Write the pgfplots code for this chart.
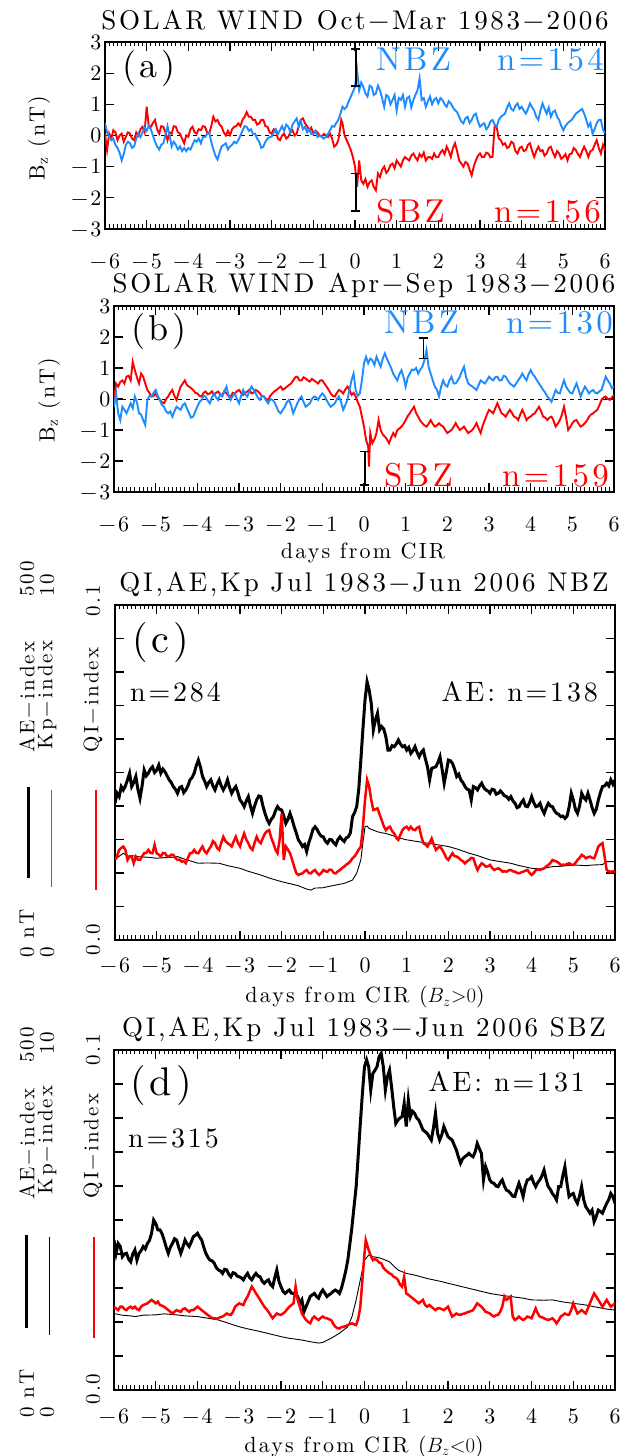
\documentclass[border=0pt]{standalone}
\usepackage{fontspec}
\setmainfont{lmroman10-regular}[Extension=.otf, LetterSpace=10]
\usepackage{pgfplots}
\pgfplotsset{compat=1.18}
\definecolor{nbz}{RGB}{30,140,255}
\definecolor{sbz}{RGB}{255,0,0}
\newcommand{\fs}[1]{\fontsize{#1}{#1}\selectfont}
\pgfplotsset{
  panel/.style={scale only axis, width=500pt, xmin=-6, xmax=6,
    xtick={-6,-5,-4,-3,-2,-1,0,1,2,3,4,5,6},
    xticklabels={−6,−5,−4,−3,−2,−1,0,1,2,3,4,5,6},
    minor x tick num=9, tick align=inside,
    major tick length=9pt, minor tick length=4.5pt,
    axis line style={line width=1.8pt},
    major tick style={line width=1.3pt, black},
    minor tick style={line width=1pt, black},
    tick label style={font=\fs{22}},
    clip=true},
  swpanel/.style={panel, ymin=-3, ymax=3, ytick={-3,-2,-1,0,1,2,3},
    yticklabels={−3,−2,−1,0,1,2,3},
    xticklabel style={anchor=base, yshift=-40pt}},
  qipanel/.style={panel, ymin=0, ymax=10, ytick={0,1,2,3,4,5,6,7,8,9,10},
    yticklabels={,,,,,,,,,,},
    xticklabel style={anchor=base, yshift=-33pt}},
  ebar/.style={black, line width=1.5pt, mark=none, error bars/.cd, y dir=both, y explicit,
    error bar style={line width=1.5pt, black},
    error mark options={rotate=90, mark size=4.5pt, line width=1.5pt, black}},
}
\begin{document}
\begin{tikzpicture}[x=1pt,y=1pt]
\useasboundingbox (0,0) rectangle (631,1456);
% ---------------- panel (a)
\begin{axis}[swpanel, at={(105pt,1227pt)}, anchor=south west, height=187pt]
\addplot[black, line width=0.8pt, dash pattern=on 4pt off 4pt] coordinates {(-6,0) (6,0)};
\addplot[sbz, line width=1.9pt] coordinates {
(-6,0.06) (-5.95,-0.47) (-5.9,0.06) (-5.85,-0.1) (-5.8,0.17) (-5.75,0.1) (-5.7,-0.15) (-5.65,0.0) (-5.6,0.06) (-5.55,-0.2) (-5.5,-0.04) (-5.45,0.1) (-5.4,0.06) (-5.35,-0.1) (-5.3,-0.15) (-5.25,0.1) (-5.2,0.0) (-5.15,0.2) (-5.1,0.28) (-5.05,0.1) (-5.0,0.92) (-4.95,0.3) (-4.9,0.28) (-4.85,0.4) (-4.8,0.5) (-4.75,0.2) (-4.7,0.06) (-4.65,0.3) (-4.6,0.28) (-4.55,0.1) (-4.5,-0.15) (-4.45,0.1) (-4.4,0.06) (-4.35,0.3) (-4.3,0.28) (-4.25,0.1) (-4.2,0.06) (-4.15,-0.1) (-4.1,-0.25) (-4.05,0.0) (-4.0,-0.04) (-3.95,0.2) (-3.9,0.28) (-3.85,0.1) (-3.8,0.06) (-3.75,0.2) (-3.7,0.17) (-3.65,0.3) (-3.6,0.28) (-3.55,0.1) (-3.5,0.06) (-3.45,0.3) (-3.4,0.6) (-3.35,0.45) (-3.3,0.5) (-3.25,0.35) (-3.2,0.28) (-3.15,0.1) (-3.1,0.0) (-3.05,0.15) (-3.0,0.01) (-2.95,0.2) (-2.9,0.28) (-2.85,0.3) (-2.8,0.39) (-2.75,0.3) (-2.7,0.5) (-2.65,0.6) (-2.6,0.75) (-2.55,0.6) (-2.5,0.6) (-2.45,0.5) (-2.4,0.5) (-2.35,0.35) (-2.3,0.39) (-2.25,0.5) (-2.2,0.5) (-2.15,0.3) (-2.1,0.28) (-2.05,0.1) (-2.0,0.06) (-1.95,0.2) (-1.9,0.17) (-1.85,-0.1) (-1.8,-0.15) (-1.75,0.0) (-1.7,0.06) (-1.65,-0.1) (-1.6,-0.04) (-1.55,0.1) (-1.5,0.17) (-1.45,0.0) (-1.4,0.06) (-1.35,0.3) (-1.3,0.5) (-1.25,0.55) (-1.2,0.39) (-1.15,0.3) (-1.1,0.17) (-1.05,0.25) (-1.0,0.06) (-0.95,0.15) (-0.9,0.1) (-0.85,0.0) (-0.8,-0.04) (-0.75,0.05) (-0.7,0.01) (-0.65,-0.05) (-0.6,0.06) (-0.55,-0.1) (-0.5,-0.36) (-0.45,-0.3) (-0.4,-0.15) (-0.35,0.3) (-0.33,0.5) (-0.3,0.39) (-0.25,0.0) (-0.2,-0.15) (-0.15,-0.3) (-0.1,-0.47) (-0.05,-0.7) (0,-1.0) (0.05,-1.65) (0.1,-0.8) (0.15,-1.44) (0.2,-1.55) (0.25,-1.4) (0.3,-1.65) (0.35,-1.5) (0.4,-1.44) (0.45,-1.65) (0.5,-1.76) (0.55,-1.22) (0.6,-1.33) (0.65,-1.1) (0.7,-1.0) (0.75,-1.2) (0.8,-1.12) (0.85,-0.95) (0.9,-0.9) (0.95,-1.05) (1.0,-0.8) (1.05,-0.9) (1.1,-1.0) (1.15,-0.8) (1.2,-0.69) (1.25,-0.75) (1.3,-0.8) (1.35,-0.65) (1.4,-0.58) (1.45,-0.7) (1.5,-0.8) (1.55,-0.6) (1.6,-0.69) (1.65,-0.55) (1.7,-0.8) (1.75,-0.7) (1.8,-0.69) (1.85,-0.75) (1.9,-0.58) (1.95,-0.7) (2.0,-0.69) (2.05,-0.55) (2.1,-0.47) (2.15,-0.6) (2.2,-0.36) (2.25,-0.5) (2.3,-0.69) (2.35,-0.4) (2.4,-0.25) (2.45,-0.5) (2.5,-0.8) (2.55,-0.9) (2.6,-1.0) (2.65,-0.85) (2.7,-0.9) (2.75,-1.1) (2.8,-1.28) (2.85,-1.0) (2.9,-0.8) (2.95,-0.65) (3.0,-0.58) (3.05,-0.7) (3.1,-0.69) (3.15,-0.55) (3.2,-0.58) (3.25,-0.7) (3.3,-0.69) (3.35,0.28) (3.4,0.28) (3.45,-0.1) (3.5,-0.15) (3.55,-0.3) (3.6,-0.25) (3.65,-0.4) (3.7,-0.36) (3.75,-0.2) (3.8,-0.25) (3.85,-0.5) (3.9,-0.58) (3.95,-0.4) (4.0,-0.36) (4.05,-0.5) (4.1,-0.47) (4.15,-0.3) (4.2,-0.25) (4.25,-0.5) (4.3,-0.69) (4.35,-0.5) (4.4,-0.36) (4.45,-0.5) (4.5,-0.47) (4.55,-0.65) (4.6,-0.58) (4.65,-0.4) (4.7,-0.36) (4.75,-0.55) (4.8,-0.69) (4.85,-0.5) (4.9,-0.58) (4.95,-0.75) (5.0,-0.69) (5.05,-0.6) (5.1,-0.8) (5.15,-0.6) (5.2,-0.58) (5.25,-0.4) (5.3,-0.47) (5.35,-0.6) (5.4,-0.69) (5.45,-0.5) (5.5,-0.36) (5.55,-0.5) (5.6,-0.69) (5.65,-0.5) (5.7,-0.47) (5.75,-0.3) (5.8,-0.15) (5.85,-0.4) (5.9,-0.58) (5.95,-0.3) (6.0,-0.47)};
\addplot[nbz, line width=1.9pt] coordinates {
(-6,0.4) (-5.95,0.1) (-5.9,-0.05) (-5.85,-0.15) (-5.8,-0.1) (-5.75,-0.3) (-5.7,-0.4) (-5.65,-0.55) (-5.6,-0.8) (-5.55,-0.6) (-5.5,-0.3) (-5.45,-0.2) (-5.4,-0.25) (-5.35,-0.4) (-5.3,-0.35) (-5.25,-0.1) (-5.2,0.05) (-5.15,-0.05) (-5.1,0.1) (-5.05,0.25) (-5.0,0.15) (-4.95,0.3) (-4.9,0.2) (-4.85,0.0) (-4.8,-0.2) (-4.75,-0.35) (-4.7,-0.45) (-4.65,-0.3) (-4.6,-0.25) (-4.55,0.0) (-4.5,0.3) (-4.45,0.0) (-4.4,-0.35) (-4.35,-0.2) (-4.3,-0.3) (-4.25,-0.45) (-4.2,-0.35) (-4.15,-0.5) (-4.1,-0.4) (-4.05,-0.5) (-4.0,-0.4) (-3.95,-0.45) (-3.9,-0.3) (-3.85,-0.15) (-3.8,-0.2) (-3.75,-0.1) (-3.7,-0.25) (-3.65,-0.05) (-3.6,-0.05) (-3.55,0.05) (-3.5,0.1) (-3.45,-0.2) (-3.4,-0.45) (-3.35,-0.65) (-3.3,-0.77) (-3.25,-0.55) (-3.2,-0.35) (-3.15,-0.3) (-3.1,-0.25) (-3.05,-0.45) (-3.0,-0.35) (-2.95,-0.3) (-2.9,-0.2) (-2.85,-0.25) (-2.8,-0.15) (-2.75,0.0) (-2.7,0.15) (-2.65,0.3) (-2.6,0.28) (-2.55,0.15) (-2.5,0.2) (-2.45,0.05) (-2.4,0.06) (-2.35,-0.1) (-2.3,-0.2) (-2.25,-0.4) (-2.2,-0.36) (-2.15,-0.2) (-2.1,-0.1) (-2.05,-0.05) (-2.0,-0.04) (-1.95,0.1) (-1.9,0.2) (-1.85,0.05) (-1.8,0.17) (-1.75,0.3) (-1.7,0.15) (-1.65,0.35) (-1.6,0.28) (-1.55,0.1) (-1.5,0.35) (-1.45,0.45) (-1.4,0.55) (-1.35,0.3) (-1.3,0.45) (-1.25,0.2) (-1.2,0.28) (-1.15,0.1) (-1.1,0.2) (-1.05,0.05) (-1.0,0.06) (-0.95,0.15) (-0.9,-0.05) (-0.85,0.0) (-0.8,-0.04) (-0.75,-0.1) (-0.7,-0.05) (-0.65,0.05) (-0.6,0.17) (-0.55,0.3) (-0.5,0.28) (-0.45,0.4) (-0.4,0.5) (-0.35,0.7) (-0.3,0.92) (-0.25,0.85) (-0.2,0.92) (-0.15,1.1) (-0.1,1.25) (-0.05,1.4) (0,1.56) (0.05,2.1) (0.1,1.45) (0.15,1.7) (0.2,1.56) (0.25,1.35) (0.3,1.25) (0.35,1.6) (0.4,1.56) (0.45,1.3) (0.5,1.35) (0.55,1.6) (0.6,1.45) (0.65,1.2) (0.7,0.92) (0.75,1.3) (0.8,1.25) (0.85,1.0) (0.9,1.14) (0.95,1.3) (1.0,0.8) (1.05,1.2) (1.1,1.14) (1.15,1.3) (1.2,0.92) (1.25,1.2) (1.3,1.25) (1.35,0.9) (1.4,1.14) (1.45,1.3) (1.5,1.45) (1.55,1.83) (1.6,1.14) (1.65,1.2) (1.7,0.92) (1.75,1.1) (1.8,1.25) (1.85,1.0) (1.9,1.15) (1.95,1.2) (2.0,1.03) (2.05,1.2) (2.1,1.14) (2.15,1.0) (2.2,0.92) (2.25,1.1) (2.3,1.03) (2.35,0.9) (2.4,0.81) (2.45,0.75) (2.5,0.6) (2.55,0.45) (2.6,0.39) (2.65,0.55) (2.7,0.6) (2.75,0.4) (2.8,0.5) (2.85,0.65) (2.9,0.7) (2.95,0.45) (3.0,0.28) (3.05,0.35) (3.1,0.39) (3.15,0.2) (3.2,0.28) (3.25,0.45) (3.3,0.5) (3.35,0.35) (3.4,0.28) (3.45,0.5) (3.5,0.6) (3.55,0.65) (3.6,0.7) (3.65,0.9) (3.7,1.03) (3.75,0.85) (3.8,0.8) (3.85,0.95) (3.9,1.03) (3.95,0.85) (4.0,0.92) (4.05,0.8) (4.1,0.7) (4.15,0.85) (4.2,1.03) (4.25,0.9) (4.3,0.8) (4.35,0.6) (4.4,0.5) (4.45,0.8) (4.5,1.03) (4.55,0.85) (4.6,0.7) (4.65,0.9) (4.7,0.6) (4.75,0.75) (4.8,0.8) (4.85,0.6) (4.9,0.5) (4.95,0.3) (5.0,0.17) (5.05,0.3) (5.1,0.39) (5.15,0.45) (5.2,0.5) (5.25,0.6) (5.3,0.7) (5.35,0.75) (5.4,0.8) (5.45,0.85) (5.5,0.7) (5.55,0.5) (5.6,0.28) (5.65,0.4) (5.7,0.06) (5.75,0.2) (5.8,0.39) (5.85,0.5) (5.9,0.5) (5.95,0.2) (6.0,0.06)};
\addplot[ebar] coordinates {(0.02,2.18) +- (0,0.59)};
\addplot[ebar] coordinates {(0.02,-1.825) +- (0,0.6)};
\end{axis}
% ---------------- panel (b)
\begin{axis}[swpanel, at={(114pt,964pt)}, anchor=south west, height=186pt]
\addplot[black, line width=0.8pt, dash pattern=on 4pt off 4pt] coordinates {(-6,0) (6,0)};
\addplot[sbz, line width=1.9pt] coordinates {
(-6,-0.03) (-5.95,0.5) (-5.9,0.4) (-5.85,0.55) (-5.8,0.6) (-5.75,0.5) (-5.7,0.72) (-5.65,0.75) (-5.6,0.6) (-5.55,1.2) (-5.5,0.93) (-5.45,0.7) (-5.4,0.5) (-5.35,0.82) (-5.3,0.72) (-5.25,0.5) (-5.2,0.29) (-5.15,0.2) (-5.1,0.08) (-5.05,0.1) (-5.0,0.18) (-4.95,0.05) (-4.9,-0.03) (-4.85,-0.1) (-4.8,-0.14) (-4.75,0.0) (-4.7,0.08) (-4.65,0.2) (-4.6,0.29) (-4.55,0.1) (-4.5,-0.03) (-4.45,0.2) (-4.4,0.4) (-4.35,0.5) (-4.3,0.6) (-4.25,0.45) (-4.2,0.4) (-4.15,0.35) (-4.1,0.29) (-4.05,0.2) (-4.0,0.18) (-3.95,0.1) (-3.9,0.08) (-3.85,0.2) (-3.8,0.24) (-3.75,0.15) (-3.7,0.18) (-3.65,0.25) (-3.6,0.13) (-3.55,0.2) (-3.5,0.24) (-3.45,0.15) (-3.4,0.13) (-3.35,0.25) (-3.3,0.18) (-3.25,0.1) (-3.2,0.08) (-3.15,0.2) (-3.1,0.18) (-3.05,0.25) (-3.0,0.29) (-2.95,0.2) (-2.9,0.13) (-2.85,0.2) (-2.8,0.24) (-2.75,0.3) (-2.7,0.18) (-2.65,0.2) (-2.6,0.29) (-2.55,0.25) (-2.5,0.18) (-2.45,0.1) (-2.4,0.08) (-2.35,0.0) (-2.3,-0.03) (-2.25,0.1) (-2.2,0.18) (-2.15,0.25) (-2.1,0.29) (-2.05,0.35) (-2.0,0.4) (-1.95,0.3) (-1.9,0.34) (-1.85,0.4) (-1.8,0.45) (-1.75,0.5) (-1.7,0.6) (-1.65,0.7) (-1.6,0.72) (-1.55,0.6) (-1.5,0.6) (-1.45,0.7) (-1.4,0.66) (-1.35,0.6) (-1.3,0.56) (-1.25,0.65) (-1.2,0.6) (-1.15,0.55) (-1.1,0.5) (-1.05,0.6) (-1.0,0.6) (-0.95,0.5) (-0.9,0.4) (-0.85,0.3) (-0.8,0.18) (-0.75,0.1) (-0.7,0.08) (-0.65,0.2) (-0.6,0.29) (-0.55,0.25) (-0.5,0.18) (-0.45,0.3) (-0.4,0.4) (-0.35,0.3) (-0.3,0.13) (-0.25,0.2) (-0.2,0.08) (-0.15,-0.1) (-0.1,-0.25) (-0.05,-0.57) (0,-0.89) (0.05,-1.32) (0.1,-1.54) (0.12,-2.18) (0.15,-1.1) (0.2,-1.43) (0.25,-1.3) (0.3,-1.1) (0.35,-0.68) (0.4,-1.0) (0.45,-1.15) (0.5,-1.21) (0.55,-1.3) (0.6,-1.43) (0.65,-1.25) (0.7,-1.1) (0.75,-1.2) (0.8,-1.0) (0.85,-0.95) (0.9,-0.89) (0.95,-0.8) (1.0,-0.68) (1.05,-0.55) (1.1,-0.46) (1.15,-0.35) (1.2,-0.25) (1.25,-0.45) (1.3,-0.57) (1.35,-0.7) (1.4,-0.78) (1.45,-0.85) (1.5,-0.89) (1.55,-0.8) (1.6,-0.68) (1.65,-0.8) (1.7,-0.89) (1.75,-0.85) (1.8,-0.78) (1.85,-0.85) (1.9,-0.89) (1.95,-1.0) (2.0,-1.1) (2.05,-1.05) (2.1,-1.0) (2.15,-0.9) (2.2,-0.78) (2.25,-0.9) (2.3,-1.0) (2.35,-0.95) (2.4,-0.89) (2.45,-1.0) (2.5,-1.1) (2.55,-1.05) (2.6,-1.0) (2.65,-0.9) (2.7,-0.78) (2.75,-0.95) (2.8,-1.1) (2.85,-0.85) (2.9,-0.68) (2.95,-0.5) (3.0,-0.35) (3.05,-0.4) (3.1,-0.46) (3.15,-0.3) (3.2,-0.14) (3.25,-0.3) (3.3,-0.46) (3.35,-0.5) (3.4,-0.57) (3.45,-0.45) (3.5,-0.35) (3.55,-0.45) (3.6,-0.57) (3.65,-0.6) (3.7,-0.68) (3.75,-0.5) (3.8,-0.35) (3.85,-0.5) (3.9,-0.68) (3.95,-0.6) (4.0,-0.57) (4.05,-0.5) (4.1,-0.46) (4.15,-0.35) (4.2,-0.25) (4.25,-0.4) (4.3,-0.57) (4.35,-0.6) (4.4,-0.68) (4.45,-0.6) (4.5,-0.57) (4.55,-0.7) (4.6,-0.89) (4.65,-0.8) (4.7,-0.68) (4.75,-0.5) (4.8,-0.25) (4.85,-0.6) (4.9,-1.0) (4.95,-0.9) (5.0,-0.78) (5.05,-0.7) (5.1,-0.68) (5.15,-0.8) (5.2,-0.89) (5.25,-0.85) (5.3,-0.78) (5.35,-0.7) (5.4,-0.57) (5.45,-0.5) (5.5,-0.46) (5.55,-0.4) (5.6,-0.35) (5.65,-0.2) (5.7,-0.03) (5.75,0.05) (5.8,0.08) (5.85,0.0) (5.9,-0.03) (5.95,0.05) (6.0,0.13)};
\addplot[nbz, line width=1.9pt] coordinates {
(-6,-0.25) (-5.95,0.18) (-5.9,-0.46) (-5.85,-0.68) (-5.8,-0.25) (-5.75,-0.35) (-5.7,-0.46) (-5.65,-0.3) (-5.6,-0.14) (-5.55,-0.3) (-5.5,0.08) (-5.45,-0.1) (-5.4,-0.46) (-5.35,-0.5) (-5.3,-0.68) (-5.25,-0.84) (-5.2,-0.03) (-5.15,0.1) (-5.1,0.08) (-5.05,0.2) (-5.0,0.29) (-4.95,0.1) (-4.9,-0.03) (-4.85,-0.2) (-4.8,-0.25) (-4.75,-0.4) (-4.7,-0.46) (-4.65,-0.4) (-4.6,-0.57) (-4.55,-0.4) (-4.5,-0.25) (-4.45,-0.3) (-4.4,-0.35) (-4.35,-0.2) (-4.3,-0.14) (-4.25,-0.3) (-4.2,-0.46) (-4.15,-0.6) (-4.1,-0.57) (-4.05,-0.4) (-4.0,-0.25) (-3.95,-0.1) (-3.9,-0.03) (-3.85,0.1) (-3.8,0.08) (-3.75,-0.05) (-3.7,-0.14) (-3.65,0.05) (-3.6,0.18) (-3.55,0.05) (-3.5,-0.03) (-3.45,0.15) (-3.4,0.08) (-3.35,0.25) (-3.3,0.4) (-3.25,0.1) (-3.2,-0.03) (-3.15,0.1) (-3.1,0.18) (-3.05,0.0) (-3.0,-0.14) (-2.95,0.1) (-2.9,0.29) (-2.85,0.15) (-2.8,0.08) (-2.75,0.25) (-2.7,0.4) (-2.65,0.3) (-2.6,0.18) (-2.55,0.05) (-2.5,-0.03) (-2.45,0.1) (-2.4,0.08) (-2.35,-0.05) (-2.3,-0.14) (-2.25,0.0) (-2.2,-0.03) (-2.15,-0.1) (-2.1,-0.25) (-2.05,-0.4) (-2.0,-0.46) (-1.95,-0.35) (-1.9,-0.25) (-1.85,-0.1) (-1.8,-0.03) (-1.75,-0.2) (-1.7,-0.46) (-1.65,-0.3) (-1.6,-0.14) (-1.55,0.0) (-1.5,0.08) (-1.45,-0.1) (-1.4,-0.25) (-1.35,-0.2) (-1.3,-0.14) (-1.25,0.0) (-1.2,0.08) (-1.15,0.05) (-1.1,-0.03) (-1.05,0.1) (-1.0,0.18) (-0.95,0.1) (-0.9,-0.03) (-0.85,-0.15) (-0.8,-0.25) (-0.75,-0.2) (-0.7,-0.14) (-0.65,0.0) (-0.6,0.08) (-0.55,-0.1) (-0.5,-0.35) (-0.45,-0.2) (-0.4,-0.03) (-0.35,0.3) (-0.3,0.6) (-0.25,0.82) (-0.2,0.29) (-0.15,0.1) (-0.1,0.18) (-0.05,0.6) (0,1.15) (0.05,1.36) (0.1,1.15) (0.15,1.3) (0.2,1.25) (0.25,1.1) (0.3,1.36) (0.35,1.2) (0.4,1.04) (0.45,1.3) (0.5,1.47) (0.55,1.3) (0.6,1.15) (0.65,1.0) (0.7,0.82) (0.75,0.7) (0.8,0.6) (0.85,0.8) (0.9,0.93) (0.95,0.7) (1.0,0.4) (1.05,0.7) (1.1,0.82) (1.15,0.95) (1.2,0.93) (1.25,1.0) (1.3,0.82) (1.35,0.95) (1.4,1.04) (1.45,1.25) (1.5,1.58) (1.55,1.04) (1.6,0.82) (1.65,0.6) (1.7,0.4) (1.75,0.3) (1.8,0.08) (1.85,0.4) (1.9,0.6) (1.95,0.45) (2.0,0.4) (2.05,0.6) (2.1,0.72) (2.15,0.5) (2.2,0.5) (2.25,0.6) (2.3,0.72) (2.35,0.9) (2.4,1.04) (2.45,0.7) (2.5,0.5) (2.55,0.45) (2.6,0.4) (2.65,0.35) (2.7,0.29) (2.75,0.45) (2.8,0.6) (2.85,0.55) (2.9,0.5) (2.95,0.6) (3.0,0.72) (3.05,0.65) (3.1,0.6) (3.15,0.7) (3.2,0.72) (3.25,0.6) (3.3,0.6) (3.35,0.75) (3.4,0.72) (3.45,0.6) (3.5,0.5) (3.55,0.45) (3.6,0.4) (3.65,0.5) (3.7,0.6) (3.75,0.7) (3.8,0.82) (3.85,0.7) (3.9,0.6) (3.95,0.8) (4.0,0.93) (4.05,0.8) (4.1,0.72) (4.15,0.6) (4.2,0.5) (4.25,0.4) (4.3,0.29) (4.35,0.2) (4.4,0.08) (4.45,0.0) (4.5,-0.09) (4.55,0.1) (4.6,0.29) (4.65,0.2) (4.7,0.18) (4.75,0.4) (4.8,0.6) (4.85,0.4) (4.9,0.29) (4.95,0.2) (5.0,0.18) (5.05,0.35) (5.1,0.5) (5.15,0.3) (5.2,0.08) (5.25,0.25) (5.3,0.4) (5.35,0.3) (5.4,0.18) (5.45,0.25) (5.5,0.29) (5.55,0.2) (5.6,0.18) (5.65,0.25) (5.7,0.29) (5.75,0.5) (5.8,0.72) (5.85,0.6) (5.9,0.5) (5.95,0.35) (6.0,0.4)};
\addplot[ebar] coordinates {(1.43,1.63) +- (0,0.33)};
\addplot[ebar] coordinates {(0.02,-2.235) +- (0,0.535)};
\end{axis}
% ---------------- panel (c)
\begin{axis}[qipanel, at={(115pt,516pt)}, anchor=south west, height=335pt]
\addplot[black, line width=0.9pt] coordinates {
(-6,2.39) (-5.9,2.5) (-5.8,2.59) (-5.7,2.5) (-5.6,2.52) (-5.4,2.48) (-5.2,2.47) (-5.0,2.44) (-4.8,2.46) (-4.6,2.47) (-4.5,2.49) (-4.3,2.4) (-4.0,2.29) (-3.8,2.3) (-3.5,2.29) (-3.3,2.22) (-3.0,2.14) (-2.8,2.05) (-2.5,1.94) (-2.3,1.85) (-2.0,1.74) (-1.8,1.68) (-1.6,1.62) (-1.4,1.52) (-1.3,1.49) (-1.2,1.55) (-1.0,1.56) (-0.9,1.59) (-0.7,1.64) (-0.5,1.69) (-0.4,1.74) (-0.3,1.79) (-0.2,1.99) (-0.1,2.39) (-0.05,2.9) (0,3.38) (0.05,3.4) (0.1,3.33) (0.2,3.28) (0.3,3.23) (0.4,3.2) (0.5,3.18) (0.7,3.1) (0.9,3.02) (1.0,2.99) (1.2,2.95) (1.5,2.89) (1.7,2.85) (2.0,2.79) (2.2,2.72) (2.5,2.59) (2.7,2.52) (3.0,2.39) (3.2,2.35) (3.5,2.29) (3.7,2.22) (4.0,2.14) (4.2,2.12) (4.5,2.19) (4.7,2.2) (5.0,2.24) (5.3,2.22) (5.5,2.24) (5.7,2.25) (5.8,2.34) (6.0,2.34)};
\addplot[black, line width=3pt] coordinates {
(-6,4.08) (-5.95,4.38) (-5.9,4.28) (-5.85,4.58) (-5.8,4.48) (-5.75,4.6) (-5.7,4.78) (-5.65,4.98) (-5.6,4.58) (-5.55,4.7) (-5.5,4.88) (-5.45,4.5) (-5.4,4.23) (-5.35,4.6) (-5.3,5.07) (-5.25,4.9) (-5.2,4.98) (-5.15,5.1) (-5.1,5.17) (-5.05,5.0) (-5.0,5.07) (-4.95,5.22) (-4.9,4.98) (-4.85,5.1) (-4.8,5.02) (-4.75,4.9) (-4.7,4.78) (-4.65,4.7) (-4.6,4.58) (-4.55,4.5) (-4.5,4.38) (-4.45,4.55) (-4.4,4.58) (-4.35,4.4) (-4.3,4.48) (-4.25,4.6) (-4.2,4.78) (-4.15,4.85) (-4.1,4.98) (-4.05,5.2) (-4.0,5.37) (-3.95,5.17) (-3.9,4.88) (-3.85,4.75) (-3.8,4.58) (-3.75,4.7) (-3.7,4.78) (-3.65,4.6) (-3.6,4.48) (-3.55,4.65) (-3.5,4.78) (-3.45,4.6) (-3.4,4.48) (-3.35,4.6) (-3.3,4.78) (-3.25,4.55) (-3.2,4.38) (-3.15,4.5) (-3.1,4.58) (-3.05,4.4) (-3.0,4.18) (-2.95,4.1) (-2.9,3.98) (-2.85,4.15) (-2.8,4.28) (-2.75,4.0) (-2.7,3.78) (-2.65,4.0) (-2.6,4.18) (-2.55,4.3) (-2.5,4.28) (-2.45,4.0) (-2.4,3.78) (-2.35,3.6) (-2.3,3.48) (-2.25,3.6) (-2.2,3.68) (-2.15,3.85) (-2.1,3.98) (-2.05,3.9) (-2.0,3.88) (-1.95,3.7) (-1.9,3.48) (-1.85,3.6) (-1.8,3.78) (-1.75,3.6) (-1.7,3.38) (-1.65,3.2) (-1.6,2.99) (-1.55,2.9) (-1.5,2.79) (-1.45,2.85) (-1.4,2.64) (-1.35,2.9) (-1.3,3.08) (-1.25,3.3) (-1.2,3.38) (-1.15,3.3) (-1.1,3.18) (-1.05,3.1) (-1.0,3.08) (-0.95,2.95) (-0.9,2.89) (-0.85,3.0) (-0.8,2.99) (-0.75,2.9) (-0.7,2.84) (-0.65,3.0) (-0.6,3.08) (-0.55,3.0) (-0.5,2.94) (-0.45,3.05) (-0.4,3.08) (-0.35,3.2) (-0.3,3.68) (-0.25,3.8) (-0.2,3.98) (-0.15,4.5) (-0.1,5.37) (-0.05,6.3) (0,7.16) (0.05,7.71) (0.1,7.46) (0.15,7.06) (0.2,6.27) (0.25,6.57) (0.3,6.77) (0.35,6.27) (0.4,6.37) (0.45,6.3) (0.5,6.07) (0.55,5.67) (0.6,5.67) (0.65,5.8) (0.7,5.77) (0.75,5.85) (0.8,5.97) (0.85,5.85) (0.9,5.77) (0.95,5.8) (1.0,5.67) (1.05,5.75) (1.1,5.57) (1.15,5.65) (1.2,5.77) (1.25,5.6) (1.3,5.47) (1.35,5.6) (1.4,5.67) (1.45,5.4) (1.5,5.17) (1.55,4.78) (1.6,5.12) (1.65,5.15) (1.7,5.17) (1.75,5.3) (1.8,5.47) (1.85,5.1) (1.9,4.68) (1.95,5.0) (2.0,5.37) (2.05,5.35) (2.1,5.27) (2.15,5.1) (2.2,4.88) (2.25,4.95) (2.3,4.78) (2.35,4.7) (2.4,4.58) (2.45,4.5) (2.5,4.48) (2.55,4.18) (2.6,4.58) (2.65,4.55) (2.7,4.48) (2.75,4.6) (2.8,4.68) (2.85,4.55) (2.9,4.48) (2.95,4.45) (3.0,4.38) (3.05,4.5) (3.1,4.48) (3.15,4.35) (3.2,4.38) (3.25,4.45) (3.3,4.38) (3.35,4.3) (3.4,4.28) (3.45,4.2) (3.5,4.28) (3.55,4.15) (3.6,4.08) (3.65,3.95) (3.7,3.98) (3.75,4.1) (3.8,4.18) (3.85,4.0) (3.9,3.98) (3.95,4.1) (4.0,4.28) (4.05,4.1) (4.1,3.98) (4.15,4.0) (4.2,4.08) (4.25,3.9) (4.3,3.78) (4.35,3.95) (4.4,4.08) (4.45,4.0) (4.5,3.98) (4.55,3.85) (4.6,3.78) (4.65,3.75) (4.7,3.68) (4.75,3.7) (4.8,3.63) (4.85,3.7) (4.9,3.98) (4.95,4.38) (5.0,4.18) (5.05,3.9) (5.1,3.78) (5.15,4.0) (5.2,4.38) (5.25,4.25) (5.3,4.18) (5.35,4.38) (5.4,4.18) (5.45,3.95) (5.5,3.78) (5.55,3.9) (5.6,4.18) (5.65,4.4) (5.7,4.58) (5.75,4.6) (5.8,4.68) (5.85,4.6) (5.9,4.78) (5.95,4.65) (6.0,4.78)};
\addplot[sbz, line width=2.5pt] coordinates {
(-6,2.39) (-5.95,2.5) (-5.9,2.69) (-5.85,2.75) (-5.8,2.79) (-5.75,2.69) (-5.7,2.39) (-5.65,2.5) (-5.6,2.49) (-5.55,2.29) (-5.5,2.49) (-5.45,2.4) (-5.4,2.39) (-5.35,2.5) (-5.3,2.59) (-5.25,2.6) (-5.2,2.69) (-5.15,2.6) (-5.1,2.59) (-5.05,2.84) (-5.0,2.59) (-4.95,2.55) (-4.9,2.49) (-4.85,2.6) (-4.8,2.59) (-4.75,2.5) (-4.7,2.49) (-4.65,2.55) (-4.6,2.54) (-4.55,2.45) (-4.5,2.39) (-4.45,2.4) (-4.4,2.34) (-4.35,2.35) (-4.3,2.29) (-4.25,2.45) (-4.2,2.59) (-4.15,2.6) (-4.1,2.69) (-4.05,2.6) (-4.0,2.59) (-3.95,2.7) (-3.9,2.79) (-3.85,2.65) (-3.8,2.59) (-3.75,2.7) (-3.7,2.79) (-3.65,2.95) (-3.6,2.89) (-3.55,2.75) (-3.5,2.69) (-3.45,2.9) (-3.4,3.08) (-3.35,2.95) (-3.3,2.89) (-3.25,2.85) (-3.2,2.79) (-3.15,2.95) (-3.1,3.08) (-3.05,2.9) (-3.0,2.79) (-2.95,3.0) (-2.9,3.18) (-2.85,3.0) (-2.8,2.89) (-2.75,2.75) (-2.7,2.69) (-2.65,2.9) (-2.6,3.08) (-2.55,2.95) (-2.5,2.89) (-2.45,3.05) (-2.4,3.18) (-2.35,3.25) (-2.3,3.28) (-2.25,3.05) (-2.2,2.89) (-2.15,2.7) (-2.1,2.59) (-2.05,2.99) (-2.0,3.78) (-1.95,2.39) (-1.9,2.79) (-1.85,2.7) (-1.8,2.59) (-1.75,2.4) (-1.7,2.19) (-1.65,2.0) (-1.6,1.94) (-1.55,1.97) (-1.5,1.99) (-1.45,2.05) (-1.4,2.09) (-1.35,2.0) (-1.3,1.99) (-1.25,2.05) (-1.2,2.09) (-1.15,2.0) (-1.1,1.94) (-1.05,2.0) (-1.0,2.09) (-0.95,2.05) (-0.9,2.04) (-0.85,2.1) (-0.8,2.09) (-0.75,2.0) (-0.7,1.99) (-0.65,2.05) (-0.6,2.09) (-0.55,2.15) (-0.5,2.19) (-0.45,2.25) (-0.4,2.29) (-0.35,2.35) (-0.3,2.44) (-0.25,2.5) (-0.2,2.59) (-0.15,2.7) (-0.1,2.79) (-0.05,3.38) (0,4.18) (0.05,4.78) (0.1,4.58) (0.15,4.18) (0.2,3.88) (0.25,3.9) (0.3,3.93) (0.35,3.75) (0.4,3.58) (0.45,3.4) (0.5,3.28) (0.55,3.35) (0.6,3.38) (0.65,3.25) (0.7,3.18) (0.75,3.05) (0.8,2.99) (0.85,3.15) (0.9,3.28) (0.95,3.35) (1.0,3.38) (1.05,3.3) (1.1,3.38) (1.15,3.3) (1.2,3.28) (1.25,3.35) (1.3,3.38) (1.35,3.1) (1.4,2.89) (1.45,2.85) (1.5,2.79) (1.55,2.9) (1.6,3.03) (1.65,2.85) (1.7,2.69) (1.75,2.75) (1.8,2.79) (1.85,2.7) (1.9,2.59) (1.95,2.45) (2.0,2.39) (2.05,2.5) (2.1,2.59) (2.15,2.5) (2.2,2.49) (2.25,2.45) (2.3,2.39) (2.35,2.35) (2.4,2.29) (2.45,2.35) (2.5,2.39) (2.55,2.45) (2.6,2.44) (2.65,2.25) (2.7,2.09) (2.75,2.2) (2.8,2.29) (2.85,2.25) (2.9,2.19) (2.95,2.2) (3.0,2.24) (3.05,2.15) (3.1,2.09) (3.15,2.12) (3.2,2.14) (3.25,2.1) (3.3,2.04) (3.35,2.05) (3.4,2.04) (3.45,2.08) (3.5,2.09) (3.55,2.05) (3.6,2.04) (3.65,2.0) (3.7,1.99) (3.75,2.02) (3.8,2.04) (3.85,2.07) (3.9,2.09) (3.95,2.0) (4.0,1.94) (4.05,2.0) (4.1,2.09) (4.15,2.1) (4.2,2.09) (4.25,2.12) (4.3,2.14) (4.35,2.2) (4.4,2.24) (4.45,2.3) (4.5,2.39) (4.55,2.36) (4.6,2.34) (4.65,2.3) (4.7,2.24) (4.75,2.25) (4.8,2.24) (4.85,2.27) (4.9,2.29) (4.95,2.25) (5.0,2.24) (5.05,2.3) (5.1,2.39) (5.15,2.45) (5.2,2.54) (5.25,2.5) (5.3,2.44) (5.35,2.47) (5.4,2.49) (5.45,2.45) (5.5,2.44) (5.55,2.6) (5.6,2.79) (5.65,2.85) (5.7,2.89) (5.75,2.49) (5.8,2.09) (5.85,2.05) (5.9,2.04) (5.95,2.05) (6.0,2.04)};
\end{axis}
% ---------------- panel (d)
\begin{axis}[qipanel, at={(114pt,66pt)}, anchor=south west, height=340pt, width=501pt]
\addplot[black, line width=0.9pt] coordinates {
(-6,2.25) (-5.8,2.2) (-5.6,2.18) (-5.5,2.16) (-5.3,2.2) (-5.0,2.21) (-4.8,2.24) (-4.5,2.21) (-4.3,2.18) (-4.0,2.16) (-3.8,2.12) (-3.5,2.06) (-3.3,1.98) (-3.0,1.86) (-2.8,1.8) (-2.5,1.72) (-2.3,1.66) (-2.0,1.57) (-1.8,1.52) (-1.5,1.47) (-1.3,1.42) (-1.1,1.38) (-1.0,1.4) (-0.8,1.52) (-0.6,1.67) (-0.4,1.86) (-0.3,2.16) (-0.2,2.65) (-0.1,3.24) (0,3.82) (0.1,3.97) (0.2,3.92) (0.3,3.9) (0.4,3.87) (0.5,3.82) (0.6,3.77) (0.7,3.65) (0.8,3.53) (1.0,3.43) (1.2,3.38) (1.5,3.28) (1.8,3.2) (2.0,3.14) (2.3,3.05) (2.5,2.99) (2.8,2.9) (3.0,2.84) (3.3,2.78) (3.5,2.75) (3.8,2.7) (4.0,2.65) (4.3,2.64) (4.5,2.65) (4.8,2.58) (5.0,2.55) (5.3,2.5) (5.5,2.45) (5.8,2.38) (6.0,2.35)};
\addplot[black, line width=3pt] coordinates {
(-6,4.41) (-5.95,4.02) (-5.9,4.31) (-5.85,4.22) (-5.8,3.92) (-5.75,4.0) (-5.7,4.02) (-5.65,3.85) (-5.6,3.77) (-5.55,4.0) (-5.5,4.12) (-5.45,3.82) (-5.4,4.02) (-5.35,4.1) (-5.3,4.22) (-5.25,4.15) (-5.2,4.31) (-5.15,4.4) (-5.1,4.61) (-5.05,5.0) (-5.0,4.9) (-4.95,4.71) (-4.9,4.71) (-4.85,4.6) (-4.8,4.41) (-4.75,4.2) (-4.7,4.02) (-4.65,4.2) (-4.6,4.31) (-4.55,4.45) (-4.5,4.41) (-4.45,4.2) (-4.4,4.02) (-4.35,4.2) (-4.3,4.41) (-4.25,4.3) (-4.2,4.22) (-4.15,4.35) (-4.1,4.51) (-4.05,4.55) (-4.0,4.61) (-3.95,4.5) (-3.9,4.41) (-3.85,4.2) (-3.8,4.02) (-3.75,3.9) (-3.7,3.82) (-3.65,3.8) (-3.6,3.73) (-3.55,3.6) (-3.5,3.53) (-3.45,3.5) (-3.4,3.43) (-3.35,3.55) (-3.3,3.53) (-3.25,3.4) (-3.2,3.33) (-3.15,3.45) (-3.1,3.43) (-3.05,3.35) (-3.0,3.33) (-2.95,3.3) (-2.9,3.24) (-2.85,3.35) (-2.8,3.43) (-2.75,3.3) (-2.7,3.24) (-2.65,3.35) (-2.6,3.43) (-2.55,3.35) (-2.5,3.33) (-2.45,3.2) (-2.4,3.14) (-2.35,3.2) (-2.3,3.24) (-2.25,3.1) (-2.2,3.04) (-2.15,3.3) (-2.1,3.53) (-2.05,3.2) (-2.0,3.04) (-1.95,2.9) (-1.9,2.84) (-1.85,2.9) (-1.8,2.94) (-1.75,2.85) (-1.7,2.84) (-1.65,2.8) (-1.6,2.75) (-1.55,2.55) (-1.5,2.65) (-1.45,2.3) (-1.4,2.45) (-1.35,2.6) (-1.3,2.75) (-1.25,2.8) (-1.2,2.84) (-1.15,2.75) (-1.1,2.7) (-1.05,2.85) (-1.0,2.94) (-0.95,2.85) (-0.9,2.75) (-0.85,2.8) (-0.8,2.84) (-0.75,2.9) (-0.7,2.94) (-0.65,2.9) (-0.6,2.84) (-0.55,3.0) (-0.5,3.24) (-0.45,3.5) (-0.4,3.82) (-0.35,4.3) (-0.3,4.8) (-0.25,5.4) (-0.2,5.98) (-0.15,6.9) (-0.1,7.84) (-0.05,8.73) (0,9.51) (0.05,9.71) (0.1,9.51) (0.15,8.82) (0.2,9.31) (0.25,9.4) (0.3,9.51) (0.35,9.8) (0.4,9.9) (0.45,9.51) (0.5,8.82) (0.55,9.22) (0.6,9.41) (0.65,8.9) (0.7,8.33) (0.75,7.84) (0.8,7.94) (0.85,8.0) (0.9,8.04) (0.95,8.43) (1.0,7.75) (1.05,8.53) (1.1,8.04) (1.15,8.2) (1.2,8.14) (1.25,8.0) (1.3,7.94) (1.35,7.8) (1.4,7.65) (1.45,7.6) (1.5,7.55) (1.55,7.45) (1.6,7.35) (1.65,7.7) (1.7,8.14) (1.75,7.55) (1.8,7.35) (1.85,7.5) (1.9,7.75) (1.95,7.6) (2.0,7.45) (2.05,7.4) (2.1,7.35) (2.15,7.2) (2.2,7.06) (2.25,6.85) (2.3,6.67) (2.35,6.8) (2.4,6.86) (2.45,6.9) (2.5,6.96) (2.55,6.9) (2.6,6.86) (2.65,7.0) (2.7,7.25) (2.75,7.1) (2.8,6.96) (2.85,6.18) (2.9,6.57) (2.95,6.4) (3.0,6.18) (3.05,6.1) (3.1,6.08) (3.15,6.0) (3.2,5.98) (3.25,6.1) (3.3,6.18) (3.35,6.0) (3.4,5.88) (3.45,5.85) (3.5,5.78) (3.55,5.7) (3.6,5.69) (3.65,5.9) (3.7,6.08) (3.75,5.9) (3.8,5.69) (3.85,6.0) (3.9,6.18) (3.95,6.2) (4.0,6.27) (4.05,6.1) (4.1,5.98) (4.15,6.1) (4.2,6.18) (4.25,6.3) (4.3,6.47) (4.35,6.2) (4.4,5.98) (4.45,5.9) (4.5,5.78) (4.55,5.7) (4.6,5.59) (4.65,5.98) (4.7,5.98) (4.75,6.3) (4.8,6.57) (4.85,6.08) (4.9,5.69) (4.95,5.75) (5.0,5.78) (5.05,5.6) (5.1,5.49) (5.15,5.7) (5.2,5.98) (5.25,5.6) (5.3,5.39) (5.35,5.3) (5.4,5.2) (5.45,5.29) (5.5,4.95) (5.55,5.1) (5.6,5.29) (5.65,5.25) (5.7,5.2) (5.75,5.35) (5.8,5.49) (5.85,5.6) (5.9,5.78) (5.95,5.69) (6.0,5.49)};
\addplot[sbz, line width=2.5pt] coordinates {
(-6,2.45) (-5.95,2.4) (-5.9,2.35) (-5.85,2.45) (-5.8,2.45) (-5.75,2.38) (-5.7,2.35) (-5.65,2.42) (-5.6,2.45) (-5.55,2.4) (-5.5,2.45) (-5.45,2.38) (-5.4,2.35) (-5.35,2.45) (-5.3,2.5) (-5.25,2.52) (-5.2,2.55) (-5.15,2.6) (-5.1,2.65) (-5.05,2.6) (-5.0,2.55) (-4.95,2.6) (-4.9,2.5) (-4.85,2.48) (-4.8,2.45) (-4.75,2.4) (-4.7,2.35) (-4.65,2.3) (-4.6,2.25) (-4.55,2.3) (-4.5,2.35) (-4.45,2.32) (-4.4,2.3) (-4.35,2.38) (-4.3,2.4) (-4.25,2.35) (-4.2,2.3) (-4.15,2.35) (-4.1,2.35) (-4.05,2.4) (-4.0,2.45) (-3.95,2.4) (-3.9,2.35) (-3.85,2.3) (-3.8,2.25) (-3.75,2.2) (-3.7,2.16) (-3.65,2.12) (-3.6,2.11) (-3.55,2.1) (-3.5,2.11) (-3.45,2.14) (-3.4,2.16) (-3.35,2.2) (-3.3,2.25) (-3.25,2.22) (-3.2,2.21) (-3.15,2.3) (-3.1,2.45) (-3.05,2.5) (-3.0,2.55) (-2.95,2.52) (-2.9,2.5) (-2.85,2.65) (-2.8,2.75) (-2.75,2.9) (-2.7,3.04) (-2.65,2.95) (-2.6,2.84) (-2.55,2.75) (-2.5,2.65) (-2.45,2.55) (-2.4,2.45) (-2.35,2.38) (-2.3,2.3) (-2.25,2.2) (-2.2,2.11) (-2.15,2.18) (-2.1,2.25) (-2.05,2.22) (-2.0,2.21) (-1.95,2.25) (-1.9,2.3) (-1.85,2.38) (-1.8,2.45) (-1.75,2.5) (-1.7,2.55) (-1.65,3.04) (-1.6,2.65) (-1.55,2.45) (-1.5,2.25) (-1.45,2.15) (-1.4,2.06) (-1.35,2.0) (-1.3,1.96) (-1.25,2.1) (-1.2,2.16) (-1.15,2.1) (-1.1,2.06) (-1.05,2.12) (-1.0,2.16) (-0.95,2.12) (-0.9,2.11) (-0.85,2.08) (-0.8,2.06) (-0.75,1.95) (-0.7,1.86) (-0.65,1.82) (-0.6,1.81) (-0.55,1.85) (-0.5,1.86) (-0.45,1.88) (-0.4,1.91) (-0.35,1.94) (-0.3,1.96) (-0.25,1.93) (-0.2,1.91) (-0.15,2.1) (-0.1,2.45) (-0.05,3.24) (0,4.02) (0.03,4.41) (0.1,4.12) (0.15,3.95) (0.2,3.82) (0.25,3.85) (0.3,3.82) (0.35,3.75) (0.4,3.73) (0.45,3.6) (0.5,3.53) (0.55,3.48) (0.6,3.43) (0.65,3.4) (0.7,3.33) (0.75,3.3) (0.8,3.24) (0.85,3.1) (0.9,3.04) (0.95,3.33) (1.0,2.84) (1.05,2.8) (1.1,2.75) (1.15,2.7) (1.2,2.65) (1.25,2.6) (1.3,2.55) (1.35,2.6) (1.4,2.65) (1.45,2.5) (1.5,2.45) (1.55,2.5) (1.6,2.45) (1.65,2.4) (1.7,2.35) (1.75,2.4) (1.8,2.4) (1.85,2.38) (1.9,2.35) (1.95,2.4) (2.0,2.45) (2.05,2.3) (2.1,2.16) (2.15,2.2) (2.2,2.25) (2.25,2.22) (2.3,2.21) (2.35,2.24) (2.4,2.25) (2.45,2.28) (2.5,2.3) (2.55,2.32) (2.6,2.35) (2.65,2.45) (2.7,2.55) (2.75,2.5) (2.8,2.45) (2.85,2.38) (2.9,2.3) (2.95,2.28) (3.0,2.25) (3.05,2.2) (3.1,2.16) (3.15,2.2) (3.2,2.21) (3.25,2.3) (3.3,2.45) (3.35,2.75) (3.4,2.65) (3.45,2.7) (3.5,2.75) (3.55,2.16) (3.6,2.06) (3.65,2.1) (3.7,2.16) (3.75,2.1) (3.8,2.06) (3.85,2.1) (3.9,2.16) (3.95,2.14) (4.0,2.11) (4.05,2.25) (4.1,2.4) (4.15,2.25) (4.2,2.16) (4.25,2.14) (4.3,2.11) (4.35,2.08) (4.4,2.06) (4.45,2.08) (4.5,2.11) (4.55,2.05) (4.6,1.96) (4.65,2.05) (4.7,2.16) (4.75,2.2) (4.8,2.25) (4.85,2.22) (4.9,2.21) (4.95,2.35) (5.0,2.55) (5.05,2.4) (5.1,2.25) (5.15,2.3) (5.2,2.35) (5.25,2.3) (5.3,2.25) (5.35,2.4) (5.4,2.55) (5.45,2.7) (5.5,2.84) (5.55,2.75) (5.6,2.65) (5.65,2.55) (5.7,2.45) (5.75,2.55) (5.8,2.65) (5.85,2.55) (5.9,2.45) (5.95,2.5) (6.0,2.55)};
\end{axis}
% ---------------- texts panel (a)
\node[anchor=base, inner sep=0pt, font=\fs{27}] at (355,1426.5) {SOLAR WIND\hspace{0.5em}Oct−Mar 1983−2006};
\node[anchor=north west, inner sep=0pt, font=\fs{36}] at (122,1406) {(a)};
\node[anchor=base west, inner sep=0pt, font=\fs{33}, text=nbz] at (376,1385) {NBZ};
\node[anchor=base east, inner sep=0pt, font=\fs{33}, text=nbz] at (604,1385) {n=154};
\node[anchor=base west, inner sep=0pt, font=\fs{33}, text=sbz] at (376,1233) {SBZ};
\node[anchor=base east, inner sep=0pt, font=\fs{33}, text=sbz] at (601,1233) {n=156};
\node[rotate=90, inner sep=0pt, font=\fs{22}] at (39,1318) {B\textsubscript{z} (nT)};
% ---------------- texts panel (b)
\node[anchor=base, inner sep=0pt, font=\fs{27}] at (364,1163) {SOLAR WIND\hspace{0.5em}Apr−Sep 1983−2006};
\node[anchor=north west, inner sep=0pt, font=\fs{36}] at (131,1143) {(b)};
\node[anchor=base west, inner sep=0pt, font=\fs{33}, text=nbz] at (384,1122) {NBZ};
\node[anchor=base east, inner sep=0pt, font=\fs{33}, text=nbz] at (613,1122) {n=130};
\node[anchor=base west, inner sep=0pt, font=\fs{33}, text=sbz] at (384,969) {SBZ};
\node[anchor=base east, inner sep=0pt, font=\fs{33}, text=sbz] at (609,969) {n=159};
\node[rotate=90, inner sep=0pt, font=\fs{22}] at (49,1056) {B\textsubscript{z} (nT)};
\node[anchor=base, inner sep=0pt, font=\fs{22}] at (363,897) {days from CIR};
% ---------------- texts panel (c)
\node[anchor=base, inner sep=0pt, font=\fs{27}] at (364,864) {QI,AE,Kp Jul 1983−Jun 2006 NBZ};
\node[anchor=north west, inner sep=0pt, font=\fs{40}] at (132,834) {(c)};
\node[anchor=base west, inner sep=0pt, font=\fs{28}] at (130,754) {n=284};
\node[anchor=base east, inner sep=0pt, font=\fs{28}] at (598,754) {AE: n=138};
\node[anchor=base, inner sep=0pt, font=\fs{22}] at (365,453) {days from CIR ($B_z{>}0$)};
\node[rotate=90, inner sep=0pt, font=\fs{21}] at (27,759) {AE−index};
\node[rotate=90, inner sep=0pt, font=\fs{21}] at (47,761) {Kp−index};
\node[rotate=90, inner sep=0pt, font=\fs{21}] at (93,756) {QI−index};
\node[rotate=90, anchor=west, inner sep=0pt, font=\fs{21}] at (27,859) {500};
\node[rotate=90, anchor=west, inner sep=0pt, font=\fs{21}] at (47,859) {10};
\node[rotate=90, anchor=west, inner sep=0pt, font=\fs{21}] at (27,498) {0 nT};
\node[rotate=90, anchor=west, inner sep=0pt, font=\fs{21}] at (47,498) {0};
\node[rotate=90, inner sep=0pt, font=\fs{21}] at (93,855) {0.1};
\node[rotate=90, inner sep=0pt, font=\fs{21}] at (93,516) {0.0};
\draw[black, line width=3pt] (28,669) -- (28,578);
\draw[black!60, line width=0.9pt] (51,666) -- (51,569);
\draw[sbz, line width=2.5pt] (96,666) -- (96,566);
% ---------------- texts panel (d)
\node[anchor=base, inner sep=0pt, font=\fs{27}] at (364,419) {QI,AE,Kp Jul 1983−Jun 2006 SBZ};
\node[anchor=north west, inner sep=0pt, font=\fs{40}] at (130,391) {(d)};
\node[anchor=base west, inner sep=0pt, font=\fs{28}] at (128,308) {n=315};
\node[anchor=base east, inner sep=0pt, font=\fs{28}] at (585,364) {AE: n=131};
\node[anchor=base, inner sep=0pt, font=\fs{22}] at (364,4) {days from CIR ($B_z{<}0$)};
\node[rotate=90, inner sep=0pt, font=\fs{21}] at (27,312) {AE−index};
\node[rotate=90, inner sep=0pt, font=\fs{21}] at (47,316) {Kp−index};
\node[rotate=90, inner sep=0pt, font=\fs{21}] at (93,310) {QI−index};
\node[rotate=90, anchor=west, inner sep=0pt, font=\fs{21}] at (27,393) {500};
\node[rotate=90, anchor=west, inner sep=0pt, font=\fs{21}] at (47,401) {10};
\node[rotate=90, anchor=west, inner sep=0pt, font=\fs{21}] at (27,38) {0 nT};
\node[rotate=90, anchor=west, inner sep=0pt, font=\fs{21}] at (47,38) {0};
\node[rotate=90, inner sep=0pt, font=\fs{21}] at (93,406) {0.1};
\node[rotate=90, inner sep=0pt, font=\fs{21}] at (93,67) {0.0};
\draw[black, line width=3pt] (26,221) -- (26,128);
\draw[black, line width=0.9pt] (49,219) -- (49,121);
\draw[sbz, line width=2.5pt] (94,219) -- (94,118);
\end{tikzpicture}
\end{document}
